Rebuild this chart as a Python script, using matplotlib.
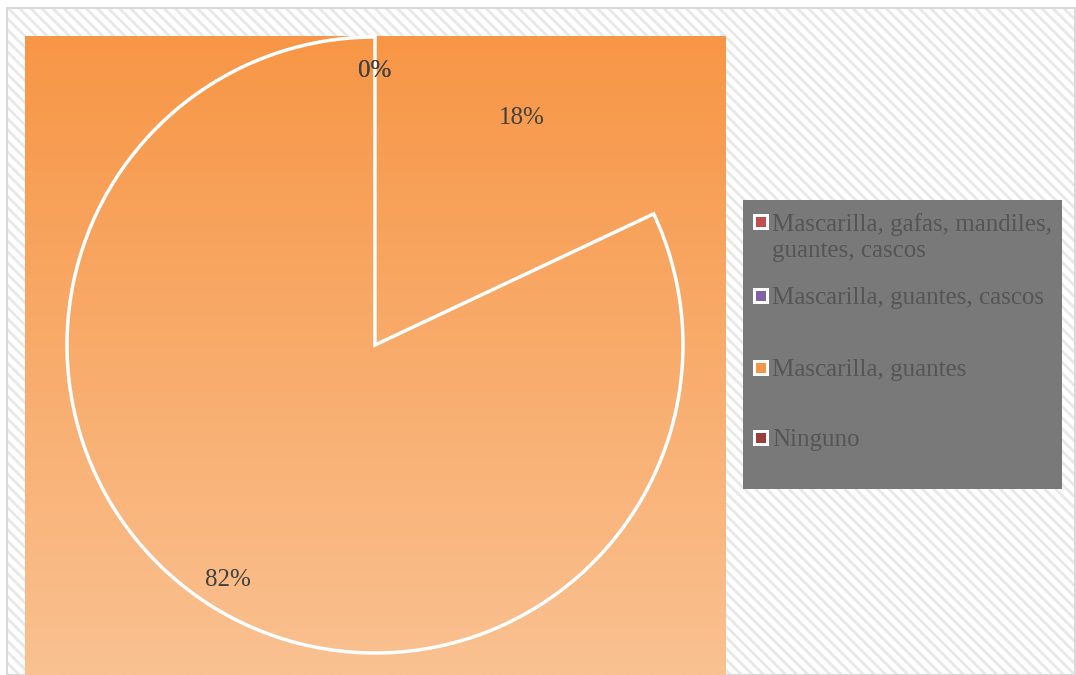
import numpy as np
import matplotlib.pyplot as plt
from matplotlib.patches import Rectangle

# Data
categories = ['Mascarilla, gafas, mandiles,\nguantes, cascos',
              'Mascarilla, guantes, cascos',
              'Mascarilla, guantes',
              'Ninguno']
values = [0, 18, 82, 0]
legend_colors = ['#c0504d', '#8064a2', '#f79646', '#9b3d3b']

W, H = 1076, 675
plt.rcParams['font.family'] = 'Liberation Serif'
plt.rcParams['hatch.linewidth'] = 2.0

fig = plt.figure(figsize=(W / 100, H / 100), dpi=100)
fig.patch.set_facecolor('white')


# helpers: pixel -> figure fraction
def fx(x):
    return x / W


def fy(y):
    return 1 - y / H


def px_rect(x0, y0, x1, y1, **kw):
    r = Rectangle((fx(x0), fy(y1)), fx(x1) - fx(x0), fy(y0) - fy(y1),
                  transform=fig.transFigure, **kw)
    fig.patches.append(r)
    return r


# hatched chart area background + border
px_rect(7, 8, 1075, 675, facecolor='white', edgecolor='#e8e8e8',
        hatch='\\\\\\', lw=0, zorder=-2)
px_rect(7, 8, 1075, 675, facecolor='none', edgecolor='#d9d9d9', lw=1.5, zorder=-1)

# plot area with vertical orange gradient
ax = fig.add_axes([fx(25), fy(675), fx(726) - fx(25), fy(36) - fy(675)])
top = np.array([247, 150, 70]) / 255
bottom = np.array([250, 193, 145]) / 255
t = np.linspace(0, 1, 256).reshape(-1, 1, 1)
grad = top * (1 - t) + bottom * t
ax.imshow(grad, extent=[0, 701, 0, 639], aspect='auto', origin='upper', zorder=0)

wedges, texts, autotexts = ax.pie(
    values, center=(350, 330), radius=308, startangle=90, counterclock=False,
    autopct='%.0f%%', pctdistance=0.89, frame=True,
    wedgeprops=dict(facecolor='none', edgecolor='none'),
    textprops=dict(color='#404040', fontsize=18))
wedges[2].set_edgecolor('white')
wedges[2].set_linewidth(2.5)
# nudge the two large-slice labels down a little, like the original
for txt in autotexts[1:3]:
    x, y = txt.get_position()
    txt.set_position((x, y - 4))

ax.set_xlim(0, 701)
ax.set_ylim(0, 639)
ax.set_aspect('auto')
ax.set_xticks([])
ax.set_yticks([])
for s in ax.spines.values():
    s.set_visible(False)

# legend box
px_rect(743, 200, 1062, 489, facecolor='#797979', edgecolor='none', zorder=2)
entry_y = [222, 296, 368, 438]
for label, color, y in zip(categories, legend_colors, entry_y):
    px_rect(753, y - 8, 769, y + 8, facecolor='white', edgecolor='none', zorder=3)
    px_rect(756, y - 5, 766, y + 5, facecolor=color, edgecolor='none', zorder=4)
    fig.text(fx(772), fy(y - 9), label, color='#555555', fontsize=18,
             ha='left', va='top', linespacing=1.25, zorder=5)

fig.savefig('out.png', dpi=100)
